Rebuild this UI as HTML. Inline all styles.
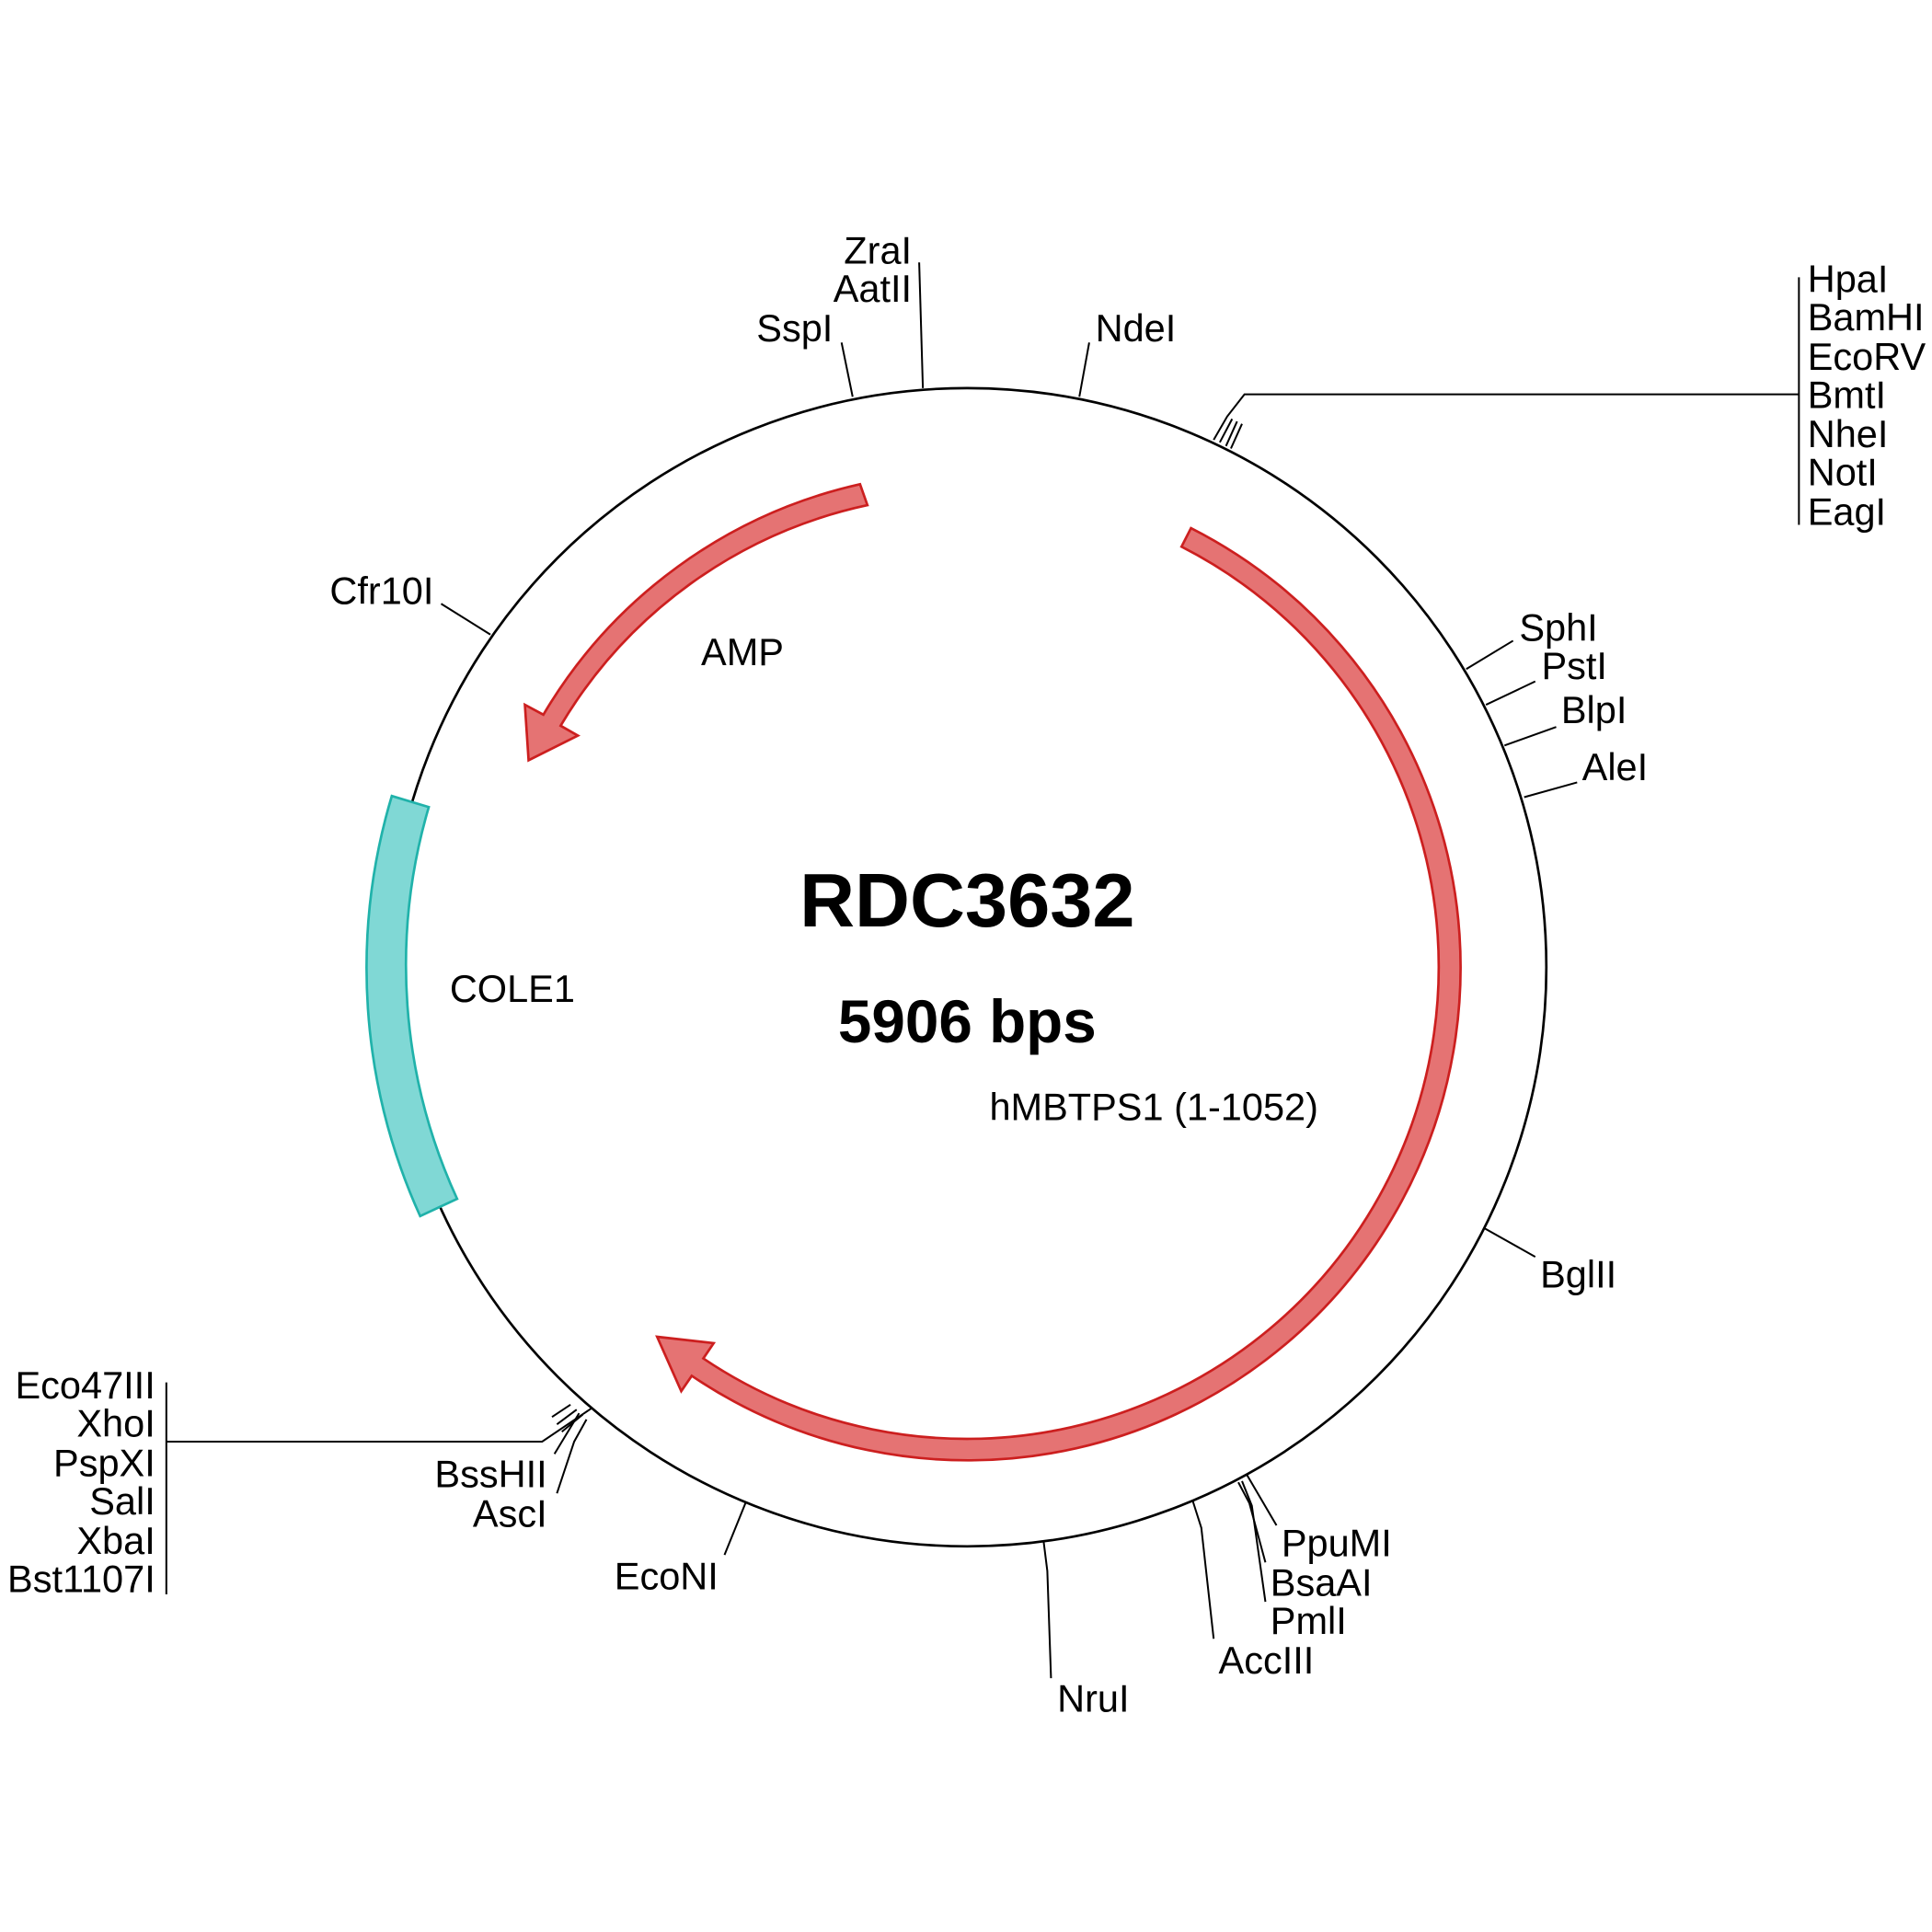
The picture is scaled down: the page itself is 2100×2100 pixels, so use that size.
<!DOCTYPE html>
<html><head><meta charset="utf-8"><style>html,body{margin:0;padding:0;background:#fff}svg{display:block}</style></head>
<body>
<svg width="2100" height="2100" viewBox="0 0 1568 1568" xmlns="http://www.w3.org/2000/svg" font-family="Liberation Sans, Arial, sans-serif">
<rect width="1568" height="1568" fill="#fff"/>
<circle cx="785" cy="785" r="470" fill="none" stroke="#000" stroke-width="2"/>
<g stroke="#000" stroke-width="1.5" fill="none">
<polyline points="749,315 746,213"/>
<polyline points="692,322 683,278"/>
<polyline points="876,322 884,278"/>
<polyline points="985,357 996,338 1010,320 1460,320"/>
<polyline points="990,359 1000,340"/>
<polyline points="995,362 1004,342"/>
<polyline points="999,364 1008,344"/>
<line x1="1460" y1="225" x2="1460" y2="426"/>
<polyline points="1190,543 1228,520"/>
<polyline points="1206,572 1246,553"/>
<polyline points="1221,605 1263,590"/>
<polyline points="1237,647 1280,635"/>
<polyline points="1205,997 1246,1020"/>
<polyline points="1012,1197 1036,1238"/>
<polyline points="1005,1203 1014,1220 1027,1268"/>
<polyline points="1008,1202 1016,1222 1027,1300"/>
<polyline points="968,1218 975,1240 985,1330"/>
<polyline points="847,1251 850,1275 853,1362"/>
<polyline points="605,1220 588,1262"/>
<polyline points="470,1147 450,1180"/>
<polyline points="476,1152 466,1170 452,1212"/>
<polyline points="480,1143 440,1170 135,1170"/>
<polyline points="463,1140 448,1150"/>
<polyline points="468,1144 452,1156"/>
<polyline points="473,1148 456,1162"/>
<line x1="135" y1="1122" x2="135" y2="1294"/>
<polyline points="398,515 358,490"/>
</g>
<path d="M966.6,428.6 A400,400 0 1 1 561.4,1116.6 L552.9,1129.1 L533.3,1084.9 L579.2,1090.1 L570.8,1102.5 A383,383 0 1 0 958.9,443.7 Z" fill="#e57373" stroke="#cc1f1f" stroke-width="2"/>
<path d="M698,393 A400,400 0 0 0 441,580 L426,572 L429,617 L469,597 L455,589 A383,383 0 0 1 704,410 Z" fill="#e57373" stroke="#cc1f1f" stroke-width="2"/>
<path d="M318,646 A487,487 0 0 0 341,987 L371,973 A454,454 0 0 1 348,655 Z" fill="#80d8d5" stroke="#20b2aa" stroke-width="2"/>
<g font-size="31" fill="#000">
<text x="740" y="214" text-anchor="end">ZraI</text>
<text x="740" y="245" text-anchor="end">AatII</text>
<text x="676" y="277" text-anchor="end">SspI</text>
<text x="889" y="277">NdeI</text>
<text x="1467" y="237">HpaI</text>
<text x="1467" y="268">BamHI</text>
<text x="1467" y="300">EcoRV</text>
<text x="1467" y="331">BmtI</text>
<text x="1467" y="363">NheI</text>
<text x="1467" y="394">NotI</text>
<text x="1467" y="426">EagI</text>
<text x="1233" y="520">SphI</text>
<text x="1251" y="551">PstI</text>
<text x="1267" y="587">BlpI</text>
<text x="1284" y="633">AleI</text>
<text x="1250" y="1045">BglII</text>
<text x="1040" y="1263">PpuMI</text>
<text x="1031" y="1295">BsaAI</text>
<text x="1031" y="1326">PmlI</text>
<text x="989" y="1358">AccIII</text>
<text x="858" y="1389">NruI</text>
<text x="583" y="1290" text-anchor="end">EcoNI</text>
<text x="444" y="1207" text-anchor="end">BssHII</text>
<text x="444" y="1239" text-anchor="end">AscI</text>
<text x="126" y="1135" text-anchor="end">Eco47III</text>
<text x="126" y="1166" text-anchor="end">XhoI</text>
<text x="126" y="1198" text-anchor="end">PspXI</text>
<text x="126" y="1229" text-anchor="end">SalI</text>
<text x="126" y="1261" text-anchor="end">XbaI</text>
<text x="126" y="1292" text-anchor="end">Bst1107I</text>
<text x="352" y="490" text-anchor="end">Cfr10I</text>
<text x="569" y="540">AMP</text>
<text x="365" y="813">COLE1</text>
<text x="803" y="909">hMBTPS1 (1-1052)</text>
</g>
<text x="785" y="752" text-anchor="middle" font-size="62" font-weight="bold">RDC3632</text>
<text x="785" y="846" text-anchor="middle" font-size="49" font-weight="bold">5906 bps</text>
</svg>
</body></html>
